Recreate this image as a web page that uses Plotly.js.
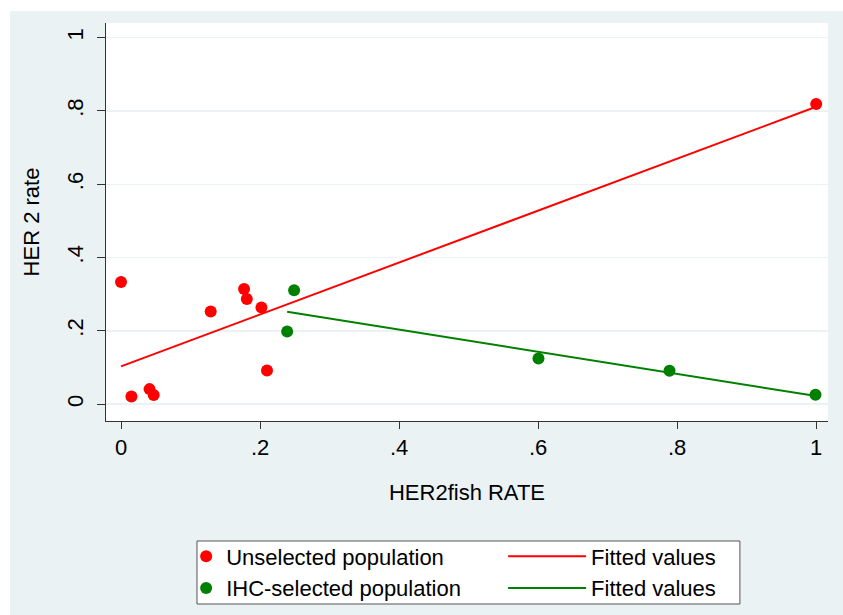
<!DOCTYPE html>
<html>
<head>
<meta charset="utf-8">
<script src="https://cdn.plot.ly/plotly-3.0.1.min.js"></script>
<style>
  html, body { margin: 0; padding: 0; background: #ffffff; }
  #chart { position: absolute; left: 10px; top: 11px; width: 833px; height: 604px; }
</style>
</head>
<body>
<div id="chart"></div>
<script>
// Unselected population (red points)
const unselX = [0, 0.015, 0.041, 0.047, 0.129, 0.177, 0.181, 0.202, 0.210, 1.0];
const unselY = [0.333, 0.021, 0.041, 0.025, 0.253, 0.314, 0.287, 0.264, 0.092, 0.819];
// IHC-selected population (green points)
const ihcX = [0.249, 0.239, 0.6005, 0.789, 0.999];
const ihcY = [0.311, 0.198, 0.1246, 0.0909, 0.0254];
// Fitted values (line endpoints)
const fitRedX = [0, 1];
const fitRedY = [0.103, 0.8115];
const fitGreenX = [0.239, 1];
const fitGreenY = [0.252, 0.022];
// Tick labels
const tickVals = [0, 0.2, 0.4, 0.6, 0.8, 1];
const tickText = ['0', '.2', '.4', '.6', '.8', '1'];

const RED = '#ff0000';
const GREEN = '#008000';
const FONT = 'Liberation Sans, Arial, sans-serif';

const traces = [
  { x: unselX, y: unselY, mode: 'markers', type: 'scatter', name: 'Unselected population',
    marker: { color: RED, size: 12 }, legend: 'legend' },
  { x: ihcX, y: ihcY, mode: 'markers', type: 'scatter', name: 'IHC-selected population',
    marker: { color: GREEN, size: 12 }, legend: 'legend' },
  { x: fitRedX, y: fitRedY, mode: 'lines', type: 'scatter', name: 'Fitted values',
    line: { color: RED, width: 2 }, legend: 'legend2' },
  { x: fitGreenX, y: fitGreenY, mode: 'lines', type: 'scatter', name: 'Fitted values',
    line: { color: GREEN, width: 2 }, legend: 'legend2' }
];

const legendCommon = {
  orientation: 'v',
  yanchor: 'top', xanchor: 'left',
  bgcolor: 'rgba(0,0,0,0)', borderwidth: 0,
  tracegroupgap: 0,
  traceorder: 'normal',
  font: { size: 22, family: FONT, color: '#000000' }
};

const layout = {
  width: 833, height: 604,
  margin: { l: 96, r: 15, t: 12, b: 194, autoexpand: false },
  paper_bgcolor: '#eaf2f3',
  plot_bgcolor: '#ffffff',
  font: { family: FONT, size: 22, color: '#000000' },
  showlegend: true,
  xaxis: {
    range: [-0.0216, 1.017],
    tickvals: tickVals, ticktext: tickText,
    ticks: 'outside', ticklen: 7, tickwidth: 1, tickcolor: '#333333',
    showline: true, linecolor: '#333333', linewidth: 1,
    showgrid: false, zeroline: false,
    tickfont: { size: 22, family: FONT },
    title: { text: 'HER2fish RATE', font: { size: 22, family: FONT }, standoff: 25 }
  },
  yaxis: {
    range: [-0.046, 1.04],
    tickvals: tickVals, ticktext: tickText,
    tickangle: -90,
    ticks: 'outside', ticklen: 8, tickwidth: 1, tickcolor: '#333333',
    ticklabelstandoff: 5,
    showline: true, linecolor: '#333333', linewidth: 1,
    showgrid: true, gridcolor: '#eaf2f3', gridwidth: 1.5,
    zeroline: false,
    tickfont: { size: 22, family: FONT },
    title: { text: 'HER 2 rate', font: { size: 22, family: FONT }, standoff: 17 }
  },
  legend: Object.assign({}, legendCommon, { x: 0.111, y: -0.2877 }),
  legend2: Object.assign({}, legendCommon, { x: 0.55, y: -0.2877, itemwidth: 78 }),
  shapes: [{
    type: 'rect', xref: 'paper', yref: 'paper',
    x0: 0.126, x1: 0.878, y0: -0.4598, y1: -0.3015,
    fillcolor: '#ffffff', line: { color: '#555555', width: 1 }, layer: 'above'
  }]
};

Plotly.newPlot('chart', traces, layout, { displayModeBar: false, staticPlot: true });
</script>
</body>
</html>
